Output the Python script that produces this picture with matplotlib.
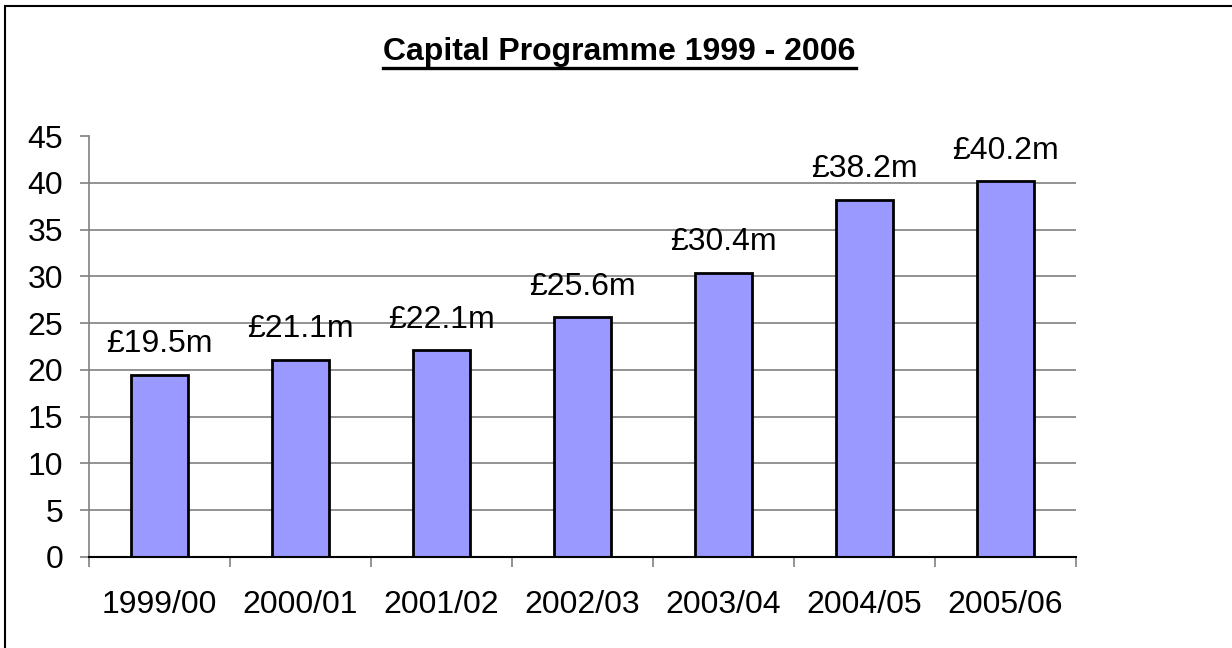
import matplotlib
matplotlib.use("Agg")
import matplotlib.pyplot as plt
from matplotlib.patches import Rectangle
from matplotlib.lines import Line2D
import numpy as np

years = ["1999/00", "2000/01", "2001/02", "2002/03", "2003/04", "2004/05", "2005/06"]
spend = [19.5, 21.1, 22.1, 25.6, 30.4, 38.2, 40.2]
labels = ["£19.5m", "£21.1m", "£22.1m", "£25.6m", "£30.4m", "£38.2m", "£40.2m"]
title = "Capital Programme 1999 - 2006"

plt.rcParams["font.family"] = ["Liberation Sans", "DejaVu Sans"]

fig = plt.figure(figsize=(12.32, 6.48), dpi=100)
ax = fig.add_axes([89 / 1232, 1 - 557 / 648, (1076 - 89) / 1232, (557 - 136) / 648])

x = np.arange(len(years))
ax.bar(x, spend, width=0.41, color="#9999FF", edgecolor="black", linewidth=2, zorder=3)

for xi, v, lab in zip(x, spend, labels):
    ax.annotate(lab, (xi, v), xytext=(0, 11), textcoords="offset points",
                ha="center", va="bottom", fontsize=23)

ax.set_xlim(-0.5, len(years) - 0.5)
ax.set_ylim(0, 45)
ax.set_yticks(np.arange(0, 46, 5))
for y in range(5, 45, 5):
    ax.axhline(y, color="#808080", linewidth=1.2, zorder=1)

ax.set_xticks(x)
ax.set_xticklabels(years, fontsize=23)
ax.set_xticks(np.arange(-0.5, len(years), 1), minor=True)
ax.tick_params(axis="x", which="major", length=0, pad=24)
ax.tick_params(axis="x", which="minor", length=7, width=1.2, color="#808080", direction="out")
ax.tick_params(axis="y", length=6.5, width=1.2, color="#808080", labelsize=23, pad=12)

for s in ["top", "right"]:
    ax.spines[s].set_visible(False)
ax.spines["left"].set_color("#808080")
ax.spines["left"].set_linewidth(1.2)
ax.spines["bottom"].set_color("black")
ax.spines["bottom"].set_linewidth(1.5)
ax.spines["bottom"].set_zorder(4)

t = fig.text(619.5 / 1232, 1 - 52 / 648, title, ha="center", va="center", fontsize=23, fontweight="bold")
fig.canvas.draw()
bb = t.get_window_extent().transformed(fig.transFigure.inverted())
fig.add_artist(Line2D([bb.x0, bb.x1], [1 - 68 / 648, 1 - 68 / 648], color="black", linewidth=2.4,
                      transform=fig.transFigure))

# outer chart frame: only its left and top edges fall inside the image
fig.add_artist(Rectangle((4.5 / 1232, -0.1), 1.2, 1.1 - 5.5 / 648,
                         transform=fig.transFigure, fill=False, edgecolor="black", linewidth=1.5))

fig.savefig("out.png", dpi=100)
